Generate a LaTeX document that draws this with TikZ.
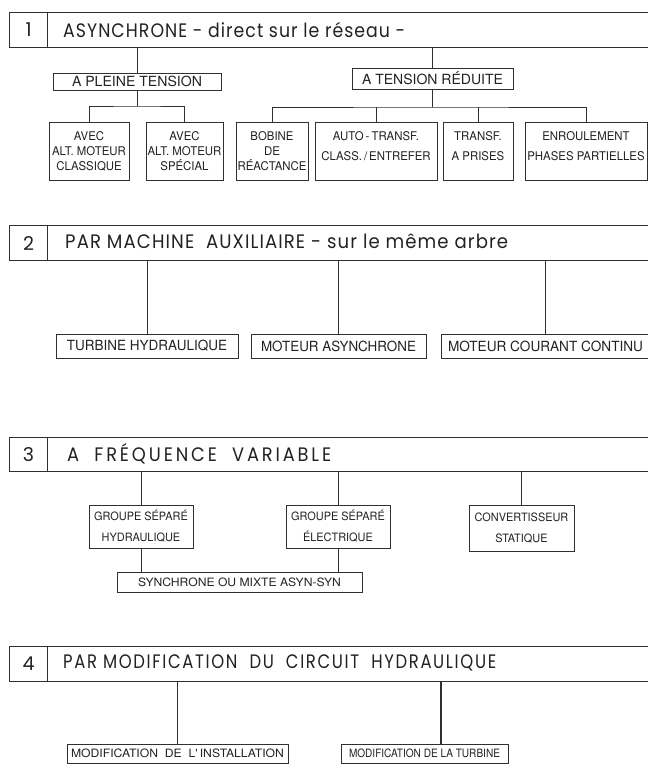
\documentclass[tikz,border=0pt]{standalone}
\usepackage{fontspec}
\usepackage{graphicx}
\setmainfont{TeX Gyre Heros}
\newfontfamily\headfont[LetterSpace=6]{Poppins}
\newfontfamily\boxfont[FakeStretch=0.95]{TeX Gyre Heros}
\definecolor{ink}{HTML}{222222}
\definecolor{rule}{HTML}{303030}
\newlength\fitlen
\newcommand\fitto[2]{\settowidth\fitlen{#2}\pgfmathsetmacro\fitr{#1/\fitlen}\scalebox{\fitr}[1]{#2}}
\tikzset{
  hdr/.style={draw=rule, line width=1.1pt, inner sep=0pt, anchor=north west},
  numtxt/.style={text=ink, inner sep=0pt, font=\headfont\fontsize{19}{21}\selectfont},
  ttl/.style={text=ink, inner sep=0pt, anchor=base west, font=\headfont\fontsize{19.5}{21}\selectfont},
  midbox/.style={draw=rule, line width=0.8pt, inner sep=0pt, text=ink, font=\boxfont\fontsize{14}{15}\selectfont},
  smallbox/.style={draw=rule, line width=0.7pt, inner sep=0pt, text=ink, align=center, font=\boxfont\fontsize{12}{15}\selectfont},
  tinybox/.style={draw=rule, line width=0.7pt, inner sep=0pt, text=ink, align=center, font=\boxfont\fontsize{11.5}{21}\selectfont},
  conn/.style={draw=rule, line width=0.6pt},
  heavyconn/.style={draw=rule, line width=1.3pt}
}
\begin{document}
\begin{tikzpicture}[x=1pt, y=-1pt]
\useasboundingbox[fill=white] (0,0) rectangle (648,764);

% ---------------- Section 1 ----------------
\node[hdr, minimum width=38, minimum height=35] (n1) at (9,12) {};
\node[hdr, minimum width=606, minimum height=35] (h1) at (47,12) {};
\node[numtxt] (n1t) at (n1.center) {1};
\node[ttl] (t1) at (63,37) {\fitto{342}{ASYNCHRONE - direct sur le réseau -}};

\node[midbox, minimum width=168, minimum height=17] (pleine) at (137,81.5) {\fitto{130}{A PLEINE TENSION}};
\node[midbox, minimum width=161, minimum height=21] (reduite) at (432.5,78.5) {\fitto{141}{A TENSION RÉDUITE}};

\node[smallbox, minimum width=80, minimum height=58] (classique) at (89,151) {AVEC\\ALT. MOTEUR\\CLASSIQUE};
\node[smallbox, minimum width=77, minimum height=58] (special) at (184.5,151) {AVEC\\ALT. MOTEUR\\SPÉCIAL};
\node[smallbox, minimum width=72, minimum height=58] (bobine) at (272,151) {BOBINE\\DE\\RÉACTANCE};
\node[smallbox, minimum width=122, minimum height=58] (auto) at (376,151) {AUTO\,-\,TRANSF.\\[5pt]CLASS.\,/\,ENTREFER\\[-6pt]\mbox{}};
\node[smallbox, minimum width=70, minimum height=58] (transf) at (478,151) {TRANSF.\\[5pt]A PRISES\\[-6pt]\mbox{}};
\node[smallbox, minimum width=122, minimum height=58] (enroul) at (586,151) {ENROULEMENT\\[5pt]PHASES PARTIELLES\\[-6pt]\mbox{}};

\draw[conn] (pleine.north) -- (pleine.north |- h1.south);
\draw[conn] (reduite.north) -- (reduite.north |- h1.south);
\coordinate (j1) at (137,106);
\coordinate (j2) at (432.5,107);
\draw[conn] (pleine.south) -- (j1);
\draw[conn] (classique.north) |- (j1) -| (special.north);
\draw[conn] (reduite.south) -- (j2);
\draw[conn] (bobine.north) |- (j2) -| (enroul.north);
\draw[conn] (auto.north) -- (auto.north |- j2);
\draw[conn] (transf.north) -- (transf.north |- j2);

% ---------------- Section 2 ----------------
\node[hdr, minimum width=38, minimum height=35] (n2) at (9,225) {};
\node[hdr, minimum width=606, minimum height=35] (h2) at (47,225) {};
\node[numtxt] (n2t) at (n2.center) {2};
\node[ttl] (t2) at (65,248) {\fitto{443}{PAR MACHINE\ \ AUXILIAIRE - sur le même arbre}};

\node[midbox, minimum width=182, minimum height=24] (turbh) at (147,346) {\fitto{160}{TURBINE HYDRAULIQUE}};
\node[midbox, minimum width=175, minimum height=24] (masyn) at (338.5,346) {\fitto{155}{MOTEUR\ ASYNCHRONE}};
\node[midbox, minimum width=209, minimum height=24] (mcc) at (545.5,346) {\fitto{195}{MOTEUR\ COURANT\ CONTINU}};

\draw[conn] (turbh.north) -- (turbh.north |- h2.south);
\draw[conn] (masyn.north) -- (masyn.north |- h2.south);
\draw[conn] (mcc.north) -- (mcc.north |- h2.south);

% ---------------- Section 3 ----------------
\node[hdr, minimum width=38, minimum height=34] (n3) at (9,437) {};
\node[hdr, minimum width=606, minimum height=34] (h3) at (47,437) {};
\node[numtxt] (n3t) at (n3.center) {3};
\node[ttl] (t3) at (67,461) {\addfontfeature{LetterSpace=16}\fitto{264}{A\ \ FRÉQUENCE\ \ VARIABLE}};

\node[tinybox, minimum width=104, minimum height=43] (gh) at (141,526.5) {GROUPE SÉPARÉ\\HYDRAULIQUE};
\node[tinybox, minimum width=104, minimum height=43] (ge) at (338,526.5) {GROUPE SÉPARÉ\\ÉLECTRIQUE};
\node[tinybox, minimum width=105, minimum height=46] (cs) at (521.5,528) {CONVERTISSEUR\\STATIQUE};
\node[tinybox, minimum width=245, minimum height=20] (sync) at (239.5,582) {\fitto{203}{SYNCHRONE OU MIXTE ASYN-SYN}};

\draw[conn] (gh.north) -- (gh.north |- h3.south);
\draw[conn] (ge.north) -- (ge.north |- h3.south);
\draw[conn] (cs.north) -- (cs.north |- h3.south);
\draw[conn] (gh.south) -- (gh.south |- sync.north);
\draw[conn] (ge.south) -- (ge.south |- sync.north);

% ---------------- Section 4 ----------------
\node[hdr, minimum width=38, minimum height=35] (n4) at (9,646) {};
\node[hdr, minimum width=606, minimum height=35] (h4) at (47,646) {};
\node[numtxt] (n4t) at (n4.center) {4};
\node[ttl] (t4) at (63,668) {\addfontfeature{LetterSpace=10}\fitto{433}{PAR MODIFICATION\ \ DU\ \ CIRCUIT\ \ HYDRAULIQUE}};

\node[tinybox, minimum width=221, minimum height=19.5] (inst) at (177.5,753.75) {\fitto{213}{MODIFICATION\ \ DE\ \ L'\,INSTALLATION}};
\node[tinybox, minimum width=167, minimum height=19.5] (turb) at (424.5,753.75) {\fitto{151}{MODIFICATION DE LA TURBINE}};

\coordinate (c4) at (441,700);
\draw[conn] (inst.north) -- (inst.north |- h4.south);
\draw[heavyconn] (turb.north -| c4) -- (h4.south -| c4);
\end{tikzpicture}
\end{document}
